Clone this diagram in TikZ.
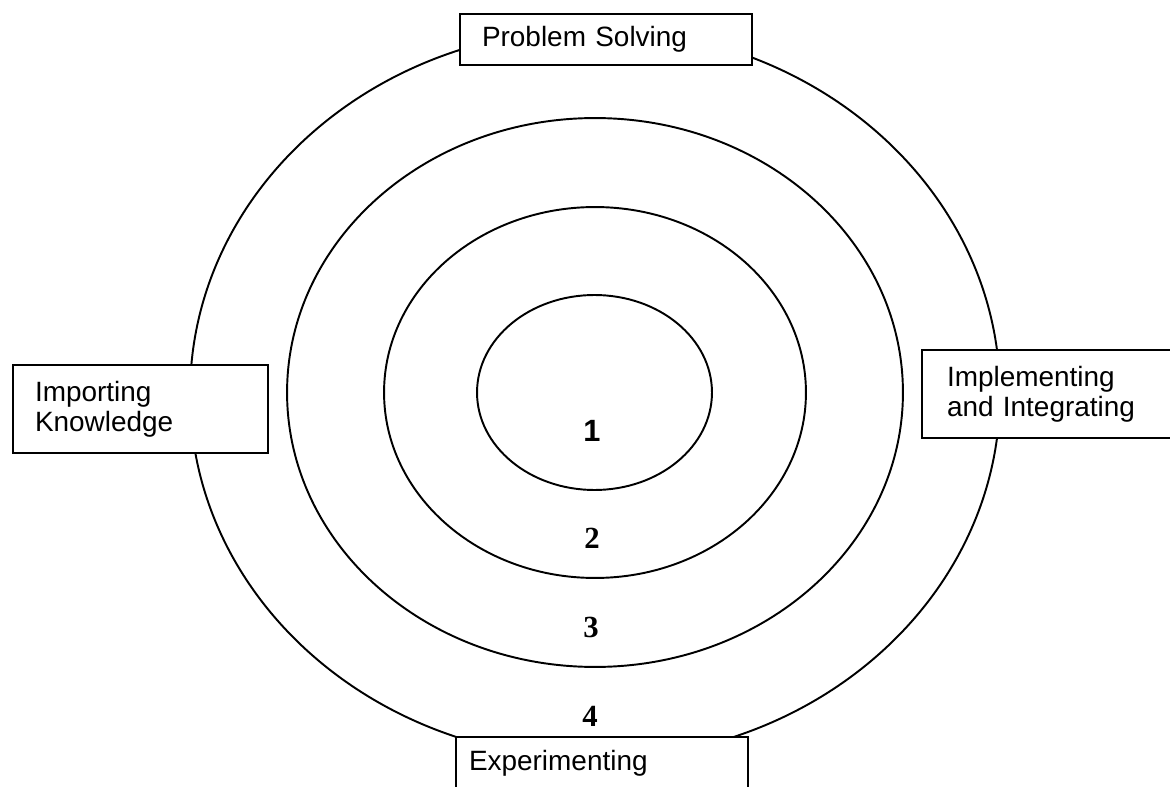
\documentclass[tikz,border=0pt]{standalone}
\usepackage{fontspec}
\setmainfont{Liberation Serif}
\setsansfont{Liberation Sans}
\usetikzlibrary{shapes.geometric}

\begin{document}
\begin{tikzpicture}[x = 0.02cm, y = -0.02cm, line width = 1.1pt]
\tikzstyle{ring}=[draw, ellipse, inner sep=0pt]
\tikzstyle{tag}=[draw, fill=white, rectangle, align=left, inner xsep=0.44cm, font=\sffamily\fontsize{15.9}{17}\selectfont]
\tikzstyle{num}=[font=\bfseries\fontsize{17.5}{19}\selectfont]
\useasboundingbox (0, 0) rectangle (1170, 787) ;
\clip (0, 0) rectangle (1170, 787) ;

\node[ring, minimum width=16.2cm,  minimum height=14.6cm ](r4) at (595, 394)   {} ;
\node[ring, minimum width=12.32cm, minimum height=10.98cm](r3) at (595, 392.5) {} ;
\node[ring, minimum width=8.44cm,  minimum height=7.42cm ](r2) at (595, 392.5) {} ;
\node[ring, minimum width=4.7cm,   minimum height=3.9cm  ](r1) at (594.5, 392.5) {} ;

\node[num](n1) at (592, 431) {\sffamily 1} ;
\node[num](n2) at (592, 538) {2} ;
\node[num](n3) at (591, 627) {3} ;
\node[num](n4) at (590, 716) {4} ;

\node[tag, text width=4.96cm, minimum height=1.02cm](solving)    at (606, 39.5) {Problem Solving} ;
\node[tag, text width=4.22cm, minimum height=1.76cm](importing)  at (140.5, 409) {Importing\\Knowledge} ;
\node[tag, text width=4.36cm, minimum height=1.76cm, inner xsep=0.5cm](implementing) at (1056, 394) {Implementing\\and Integrating} ;
\node[tag, text width=5.32cm, minimum height=1.04cm, inner xsep=0.26cm](experimenting) at (602, 763) {Experimenting} ;
\end{tikzpicture}
\end{document}
